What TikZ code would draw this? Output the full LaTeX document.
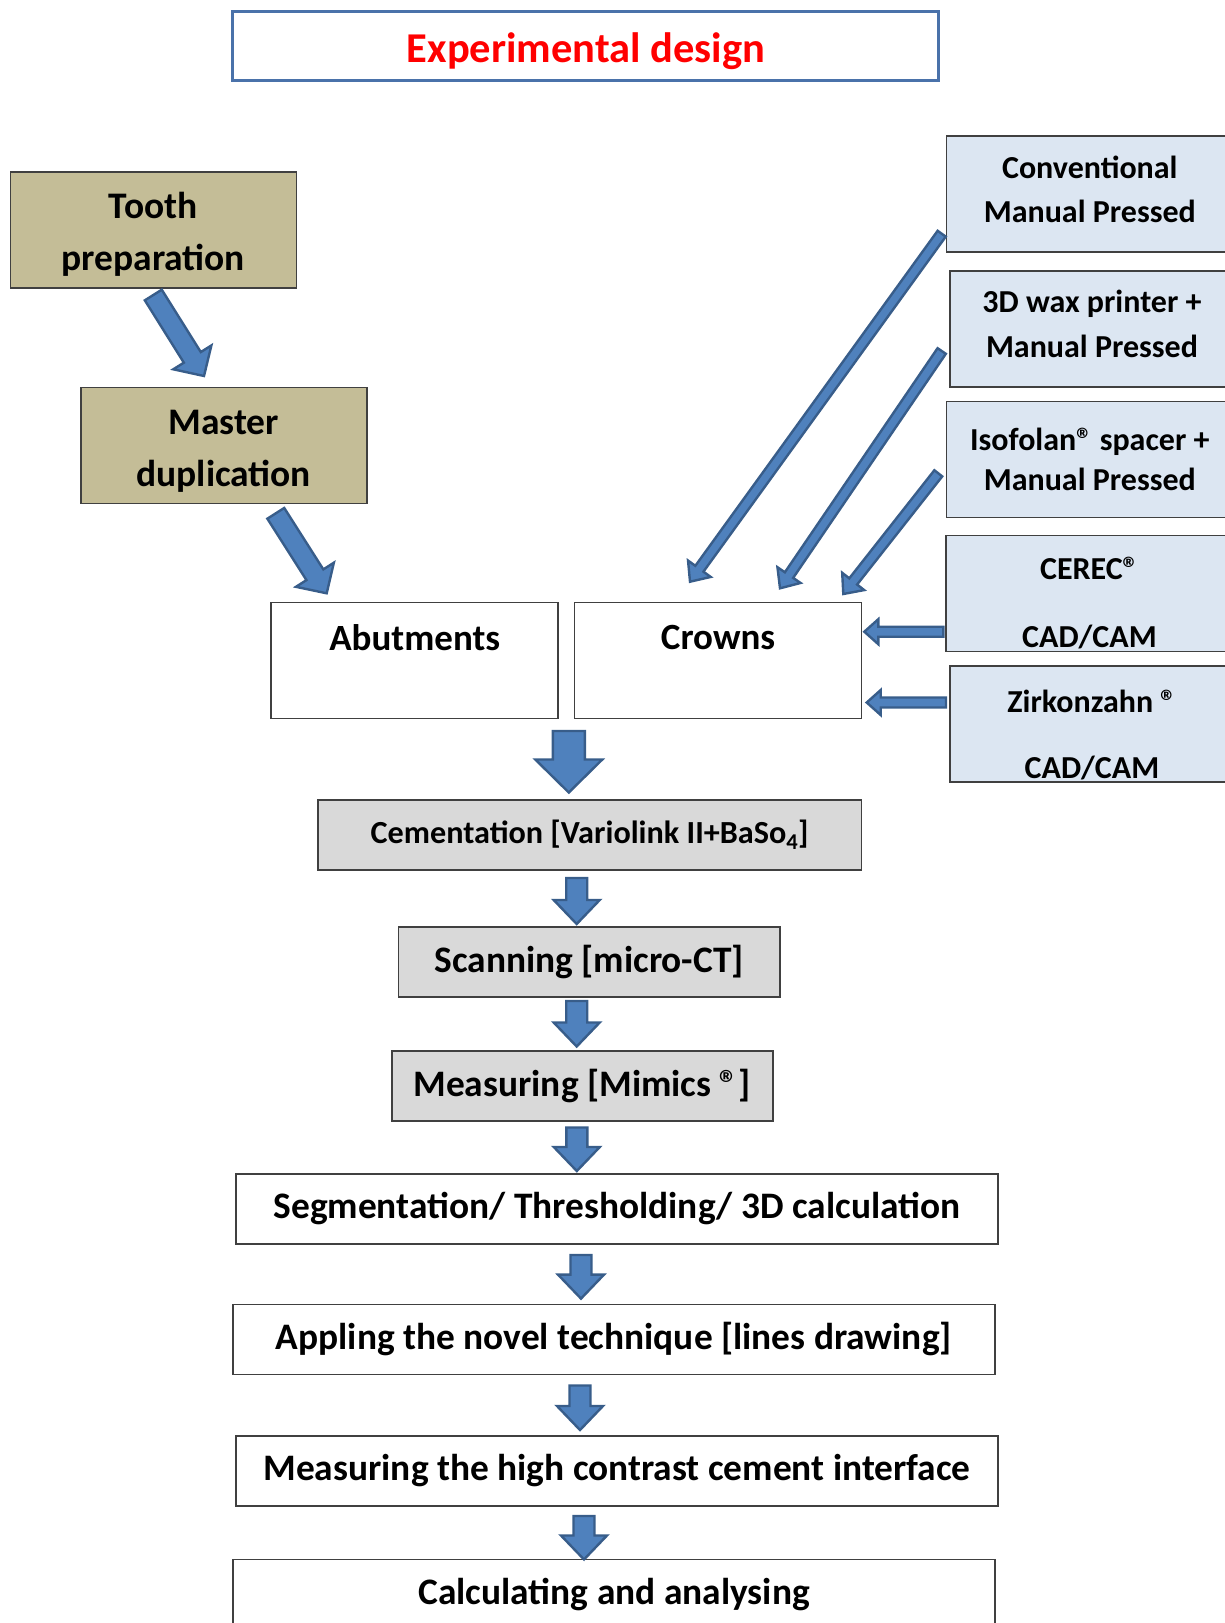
\documentclass[tikz,border=0pt]{standalone}
\usepackage{fontspec}
\setmainfont{Carlito}
\usetikzlibrary{calc}

\definecolor{tanfill}{HTML}{C4BD97}
\definecolor{skyfill}{HTML}{DCE6F2}
\definecolor{greyfill}{HTML}{D9D9D9}
\definecolor{arrfill}{HTML}{4F81BD}
\definecolor{arredge}{HTML}{385D8A}
\definecolor{titleedge}{HTML}{4A72AA}
\definecolor{titlered}{HTML}{FF0000}

% sizes of a block arrow: half shaft, half head, head length
\tikzset{ba shaft/.store in=\bashaft, ba head/.store in=\bahead, ba len/.store in=\balen,
         ba shaft=10pt, ba head=22pt, ba len=22pt}
\newcommand{\blockarrow}[3][]{%
  \begin{scope}[#1]
    \coordinate (ba-h) at ($(#3)!\balen!(#2)$);
    \draw[barr] ($(#2)!\bashaft!90:(#3)$) -- ($(ba-h)!\bashaft!90:(#3)$)
      -- ($(ba-h)!\bahead!90:(#3)$) -- (#3) -- ($(ba-h)!\bahead!-90:(#3)$)
      -- ($(ba-h)!\bashaft!-90:(#3)$) -- ($(#2)!\bashaft!-90:(#3)$) -- cycle;
  \end{scope}}
\newcommand{\reg}{®}
% struts that push the text of a box down (\topgap) or up (\botgap)
\newcommand{\topgap}[1]{\rule{0pt}{#1}}
\newcommand{\botgap}[1]{\rule[-#1]{0pt}{#1}}

\begin{document}
\begin{tikzpicture}[
  x=1pt,y=-1pt,
  box/.style={draw=black!75,line width=1.6pt,align=center,inner sep=0pt,
              font=\bfseries\fontsize{37.5}{52}\selectfont},
  prep/.style={box,fill=tanfill,minimum width=286pt,minimum height=116pt},
  part/.style={box,fill=white,minimum width=287pt,minimum height=116pt,
               font=\bfseries\fontsize{37}{43}\selectfont},
  route/.style={box,fill=skyfill,minimum height=116pt,
                font=\bfseries\fontsize{32}{44.5}\selectfont},
  stepbox/.style={box,minimum height=70pt,font=\bfseries\fontsize{37.4}{43}\selectfont},
  lab/.style={stepbox,fill=greyfill},
  barr/.style={draw=arredge,fill=arrfill,line width=2.4pt,line join=miter},
  big/.style={ba shaft=10pt,ba head=22.5pt,ba len=22pt},
  thin/.style={ba shaft=5pt,ba head=14pt,ba len=16pt},
  side/.style={ba shaft=5pt,ba head=12.5pt,ba len=14pt},
  down/.style={ba shaft=10.5pt,ba head=23pt,ba len=24pt}
]
\useasboundingbox (0,0) rectangle (1225,1623);

%%%%%%%%%%%%%%%%%%%%%% title %%%%%%%%%%%%%%%%%%%%%%%%%%%%%%%%%%%%%%%%%%%%%%
\node[draw=titleedge,line width=3pt,minimum width=706pt,minimum height=69pt,
      font=\bfseries\fontsize{42.5}{50}\selectfont,text=titlered] (title)
      at (585.9,45.5) {\topgap{42pt}Experimental design};

%%%%%%%%%%%%%%%%%%%%%% preparation %%%%%%%%%%%%%%%%%%%%%%%%%%%%%%%%%%%%%%%%
\node[prep] (tooth)  at (153.3,229.9) {\topgap{36pt}Tooth\\preparation};
\node[prep] (master) at (223.7,445.3) {\topgap{36pt}Master\\duplication};
\node[part] (abut)   at (414.7,660.6) {Abutments\\[4pt]\mbox{}};
\node[part] (crowns) at (718.1,660.6) {Crowns\\[4pt]\mbox{}};

\coordinate (d1s) at (153.3,295);   \coordinate (d1e) at (204,376);
\coordinate (d2s) at (275.8,513.3); \coordinate (d2e) at (326.7,593.3);
\blockarrow[big]{d1s}{d1e}
\blockarrow[big]{d2s}{d2e}

%%%%%%%%%%%%%%%%%%%%%% crown fabrication routes %%%%%%%%%%%%%%%%%%%%%%%%%%%
\node[route,minimum width=287pt] (conv)  at (1089.8,194)   {Conventional\\Manual Pressed\botgap{10pt}};
\node[route,minimum width=284pt] (wax)   at (1092,329)     {3D wax printer +\\Manual Pressed\botgap{10pt}};
\node[route,minimum width=287pt] (iso)   at (1089.8,459.5) {Isofolan\reg{} spacer +\\[-4pt]Manual Pressed};
\node[route,minimum width=287pt] (cerec) at (1089.5,593.5) {\topgap{42pt}CEREC\reg\\[23.7pt]CAD/CAM};
\node[route,minimum width=284pt] (zirk)  at (1092,723.8)   {\topgap{44pt}Zirkonzahn \reg\\[21.5pt]CAD/CAM};

\coordinate (t1s) at (941.7,233.7); \coordinate (t1e) at (690,581.7);
\coordinate (t2s) at (941.7,351);   \coordinate (t2e) at (780,588.3);
\coordinate (t3s) at (938.3,473.3); \coordinate (t3e) at (843.3,594);
\coordinate (h1s) at (943.3,631.7); \coordinate (h1e) at (864.3,631.7);
\coordinate (h2s) at (946,702.5);   \coordinate (h2e) at (866.7,702.5);
\blockarrow[thin]{t1s}{t1e}
\blockarrow[thin]{t2s}{t2e}
\blockarrow[thin]{t3s}{t3e}
\blockarrow[side]{h1s}{h1e}
\blockarrow[side]{h2s}{h2e}

%%%%%%%%%%%%%%%%%%%%%% cementation and analysis chain %%%%%%%%%%%%%%%%%%%%%
\node[lab,minimum width=543.6pt,font=\bfseries\fontsize{32.2}{38}\selectfont] (cem)
      at (589.7,835) {Cementation [Variolink II+BaSo\textsubscript{4}]};
\node[lab,minimum width=381.7pt] (scan) at (589.2,962)    {Scanning [micro-CT]};
\node[lab,minimum width=381pt]   (meas) at (582.2,1085.7) {Measuring [Mimics \reg]};
\node[stepbox,minimum width=762pt] (seg)  at (617,1209)     {Segmentation/ Thresholding/ 3D calculation};
\node[stepbox,minimum width=762pt] (appl) at (613.7,1339.3) {Appling the novel technique [lines drawing]};
\node[stepbox,minimum width=762pt] (hcm)  at (617.1,1471)   {Measuring the high contrast cement interface};
\node[stepbox,minimum width=762pt] (calc) at (614,1594.5)   {Calculating and analysing};

\coordinate (a1s) at (568.8,731);   \coordinate (a1e) at (568.8,792.5);
\coordinate (a2s) at (576.7,878);   \coordinate (a2e) at (576.7,924);
\coordinate (a3s) at (576.7,1001);  \coordinate (a3e) at (576.7,1046.5);
\coordinate (a4s) at (576.8,1127.5);\coordinate (a4e) at (576.8,1171);
\coordinate (a5s) at (581,1255);    \coordinate (a5e) at (581,1298.6);
\coordinate (a6s) at (580,1385.5);  \coordinate (a6e) at (580,1430);
\coordinate (a7s) at (584,1516);    \coordinate (a7e) at (584,1559.5);
\blockarrow[ba shaft=16pt,ba head=33.5pt,ba len=33pt]{a1s}{a1e}
\foreach \k in {2,...,7}{\blockarrow[down]{a\k s}{a\k e}}
\end{tikzpicture}
\end{document}
